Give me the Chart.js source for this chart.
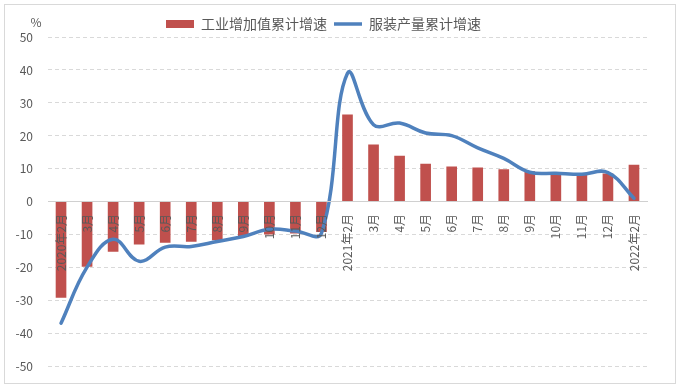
<!DOCTYPE html>
<html><head><meta charset="utf-8">
<script src="https://cdn.jsdelivr.net/npm/chart.js@4/dist/chart.umd.min.js"></script>
<style>
html,body{margin:0;padding:0;background:#fff;}
#wrap{position:relative;width:682px;height:389px;}
#frame{position:absolute;left:4px;top:4px;width:672px;height:380px;border:1px solid #D9D9D9;box-sizing:border-box;pointer-events:none}
canvas{display:block}
</style></head><body>
<div id="wrap"><canvas id="c" width="682" height="389"></canvas><div id="frame"></div></div>
<script>
const categories = ['2020年2月','3月','4月','5月','6月','7月','8月','9月','10月','11月','12月',
  '2021年2月','3月','4月','5月','6月','7月','8月','9月','10月','11月','12月','2022年2月'];
const industryGrowth = [-29.0,-19.6,-15.0,-12.8,-12.3,-12.0,-11.5,-10.3,-9.8,-9.5,-9.0,
  26.4,17.3,13.9,11.5,10.6,10.3,9.8,9.2,8.9,8.6,8.5,11.2];
const apparelGrowth = [-36.8,-19.8,-11.3,-18.0,-13.7,-13.5,-12.0,-10.5,-8.3,-8.8,-9.5,
  39.0,23.4,23.9,20.9,20.1,16.4,13.2,9.0,8.7,8.4,8.9,1.1];
const seriesNames = ['工业增加值累计增速','服装产量累计增速'];
const yMin = -50, yMax = 50, yStep = 10;
const unitLabel = '%';

const FONT = '"Noto Sans CJK SC", "Liberation Sans", sans-serif';
const GREY = '#595959';

const unitPlugin = {
  id: 'unit',
  afterDraw(chart) {
    const ctx = chart.ctx, y = chart.scales.y;
    ctx.save();
    ctx.fillStyle = GREY;
    ctx.font = '12px ' + FONT;
    ctx.textAlign = 'center';
    ctx.textBaseline = 'middle';
    ctx.fillText(unitLabel, y.right - 12, chart.chartArea.top - 15);
    ctx.restore();
  }
};

new Chart(document.getElementById('c'), {
  data: {
    labels: categories,
    datasets: [
      { type: 'bar', label: seriesNames[0], data: industryGrowth, backgroundColor: '#C0504D',
        borderWidth: 0, barThickness: 10, order: 1, pointStyle: 'rect' },
      { type: 'line', label: seriesNames[1], data: apparelGrowth, borderColor: '#4F81BD',
        backgroundColor: '#4F81BD', borderWidth: 3.5, tension: 0.4, pointRadius: 0,
        fill: false, order: 0, pointStyle: 'line', borderCapStyle: 'round' }
    ]
  },
  options: {
    responsive: false,
    animation: false,
    devicePixelRatio: 1,
    layout: { padding: { left: 0, right: 35, top: 10, bottom: 22 } },
    plugins: {
      legend: {
        position: 'top',
        maxHeight: 27,
        labels: {
          usePointStyle: true, pointStyleWidth: 28, boxHeight: 8,
          color: GREY, font: { family: FONT, size: 14, lineHeight: 1 }, padding: 7,
          sort: (a, b) => a.datasetIndex - b.datasetIndex
        }
      },
      tooltip: { enabled: false }
    },
    scales: {
      x: {
        type: 'category',
        position: { y: 0 },
        offset: true,
        grid: { display: false, drawTicks: false },
        border: { display: true, color: '#D0D0D0', width: 1, z: 1 },
        ticks: { z: 1, autoSkip: false, minRotation: 90, maxRotation: 90, padding: 12,
          color: GREY, font: { family: FONT, size: 12 } },
        afterFit(s) { s.height = 0; }
      },
      y: {
        min: yMin, max: yMax,
        ticks: { stepSize: yStep, padding: 15, color: GREY, font: { family: FONT, size: 12 } },
        grid: { color: '#D9D9D9', drawTicks: false, lineWidth: 1 },
        border: { display: false, dash: [4, 3] },
        afterFit(s) { s.width = 48; }
      }
    }
  },
  plugins: [unitPlugin]
});
</script>
</body></html>
